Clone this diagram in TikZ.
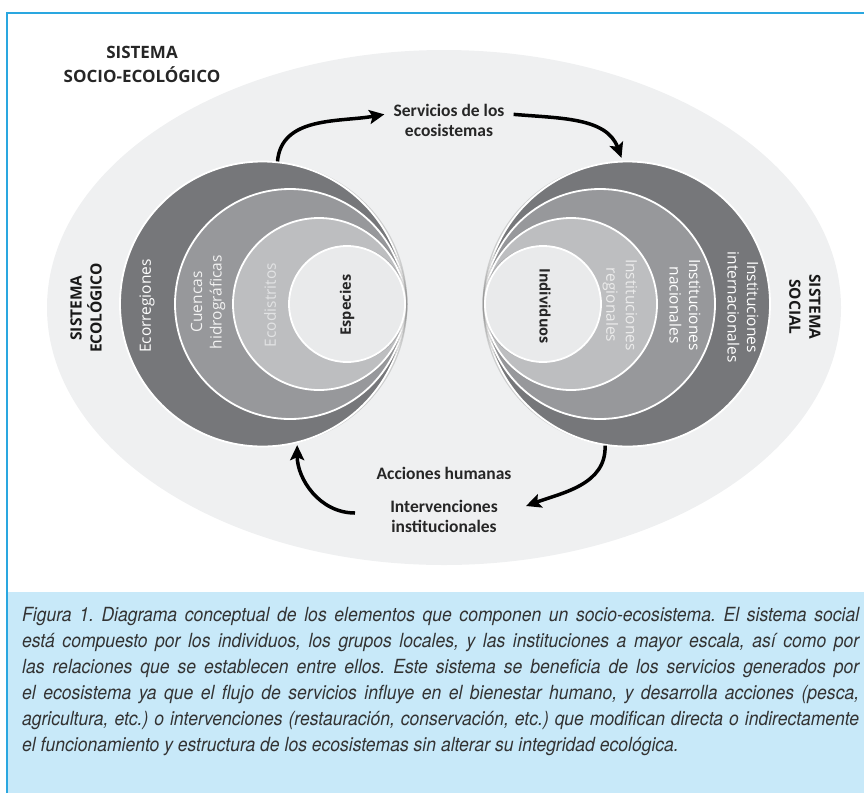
\documentclass[tikz,border=0pt]{standalone}
\usepackage{fontspec}
\setmainfont{Carlito}
\newfontfamily\ringfont{Open Sans}
\newfontfamily\capfont{TeX Gyre Heros}[FakeStretch=0.9]
\usetikzlibrary{arrows.meta, shadows, positioning}

\definecolor{frameblue}{HTML}{2AA7E0}
\definecolor{capblue}{HTML}{C8E9F9}
\definecolor{bggray}{HTML}{EFF0F1}
\definecolor{ringA}{HTML}{76777A}
\definecolor{ringB}{HTML}{97989B}
\definecolor{ringC}{HTML}{BDBEC0}
\definecolor{ringD}{HTML}{E9EAEB}
\definecolor{softwhite}{HTML}{E2E3E4}

\newcommand{\capline}[1]{\makebox[837pt][s]{#1}}

\begin{document}
\begin{tikzpicture}[x=1pt, y=-1pt,
    ring/.style={circle, draw=white, line width=1.8pt, inner sep=0pt},
    ecoring/.style={ring, drop shadow={shadow xshift=2.5pt, shadow yshift=0pt, opacity=0.3}},
    socring/.style={ring, drop shadow={shadow xshift=-2.5pt, shadow yshift=0pt, opacity=0.3}},
    arr/.style={line width=3.5pt, -{Stealth[length=15pt, width=14pt, inset=3pt]}},
    lab/.style={font=\fontsize{17.5}{20}\selectfont\bfseries, align=center,
      text=black!85, inner xsep=9pt},
    title/.style={font=\ringfont\fontsize{17}{24}\selectfont\bfseries, align=center, text=black!85},
    ringlab/.style={font=\ringfont\fontsize{15.5}{19.5}\selectfont, align=center, text=white},
    ringbold/.style={font=\ringfont\fontsize{14.5}{19.5}\selectfont\bfseries, text=black!85},
    sistema/.style={font=\ringfont\fontsize{15.5}{20}\selectfont\bfseries, align=center, text=black!90},
    capt/.style={font=\capfont\itshape\fontsize{19.5}{26}\selectfont\frenchspacing,
      text=black!80, inner sep=0pt, anchor=base west}
  ]
  \useasboundingbox (0,0) rectangle (864,793);

  % Frame and caption box
  \fill[capblue] (7,592) rectangle (864,793);
  \draw[frameblue, line width=1.5pt] (7,793) |- (864,13);

  % Socio-ecological system
  \fill[bggray] (444,307.5) ellipse [x radius=397pt, y radius=257.5pt];
  \node[title] (socioeco) at (142,64) {SISTEMA\\SOCIO-ECOLÓGICO};

  % Ecological system
  \node[ecoring, fill=ringA, minimum size=285pt] (eco1) at (262.5,304) {};
  \node[ecoring, fill=ringB, minimum size=230pt] (eco2) at (290,304) {};
  \node[ecoring, fill=ringC, minimum size=172pt] (eco3) at (319,304) {};
  \node[ecoring, fill=ringD, minimum size=116pt] (eco4) at (347,304) {};
  \node[ringlab, rotate=90] (ecorreg) at (147,306) {Ecorregiones};
  \node[ringlab, rotate=90, text=white!95!black] (cuencas) at (208,302) {Cuencas\\hidrográficas};
  \node[ringlab, rotate=90, text=softwhite] (ecodist) at (270,305) {Ecodistritos};
  \node[ringbold, rotate=90] (especies) at (347,305) {Especies};
  \node[sistema, rotate=90] (sisteco) at (86,308) {SISTEMA\\ECOLÓGICO};

  % Social system
  \node[socring, fill=ringA, minimum size=285pt] (soc1) at (627.5,304) {};
  \node[socring, fill=ringB, minimum size=230pt] (soc2) at (600,304) {};
  \node[socring, fill=ringC, minimum size=172pt] (soc3) at (571,304) {};
  \node[socring, fill=ringD, minimum size=116pt] (soc4) at (543,304) {};
  \node[ringbold, rotate=-90] (indiv) at (545,306) {Individuos};
  \node[ringlab, rotate=-90, text=white!92!black] (instreg) at (620,305) {Instituciones\\regionales};
  \node[ringlab, rotate=-90] (instnac) at (685,305) {Instituciones\\nacionales};
  \node[ringlab, rotate=-90] (instint) at (743,307) {Instituciones\\internacionales};
  \node[sistema, rotate=-90] (sistsoc) at (805,307) {SISTEMA\\SOCIAL};

  % Flows
  \node[lab] (serv) at (449,120) {Servicios de los\\ecosistemas};
  \node[lab] (acc) at (444,473) {Acciones humanas};
  \node[lab] (interv) at (444,516) {Intervenciones\\institucionales};
  \coordinate (actR) at (526,506);
  \coordinate (actL) at (355,513);

  \draw[arr] (eco1.84) to[out=85, in=190] (serv.175);
  \draw[arr, shorten >=3pt] (serv.5) to[out=-5, in=110] (soc1.92);
  \draw[arr] (soc1.261) to[out=-88, in=20] (actR);
  \draw[arr, shorten >=2pt] (actL) to[out=180, in=-90] (eco1.284);

  % Caption
  \node[capt] (cap1) at (22,621) {\capline{Figura 1. Diagrama conceptual de los elementos que componen un socio-ecosistema. El sistema social}};
  \node[capt] (cap2) at (22,647) {\capline{está compuesto por los individuos, los grupos locales, y las instituciones a mayor escala, así como por}};
  \node[capt] (cap3) at (22,673) {\capline{las relaciones que se establecen entre ellos. Este sistema se beneficia de los servicios generados por}};
  \node[capt] (cap4) at (22,699) {\capline{el ecosistema ya que el flujo de servicios influye en el bienestar humano, y desarrolla acciones (pesca,}};
  \node[capt] (cap5) at (22,725) {\capline{agricultura, etc.) o intervenciones (restauración, conservación, etc.) que modifican directa o indirectamente}};
  \node[capt] (cap6) at (22,751) {el funcionamiento y estructura de los ecosistemas sin alterar su integridad ecológica.};
\end{tikzpicture}
\end{document}
